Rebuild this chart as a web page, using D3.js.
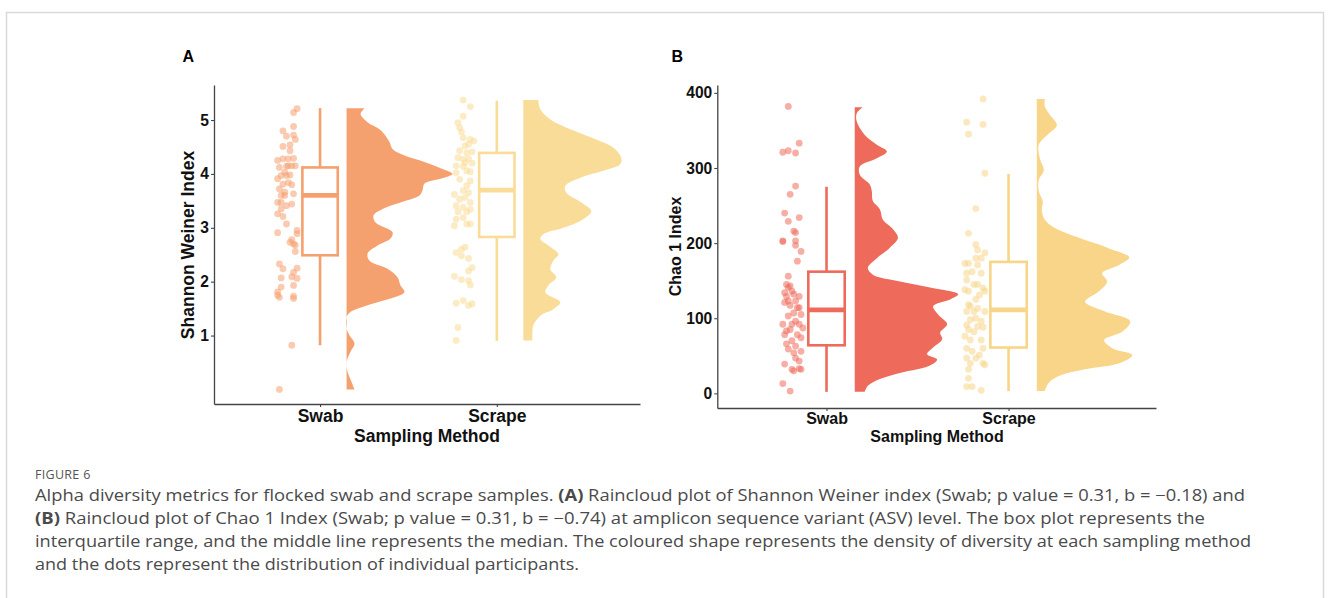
<!DOCTYPE html>
<html>
<head>
<meta charset="utf-8">
<script src="https://cdn.jsdelivr.net/npm/d3@7"></script>
<style>
  body { margin: 0; background: #fff; }
  svg { display: block; }
</style>
</head>
<body>
<svg id="fig" width="1330" height="598"></svg>
<script>
// categories and tick values
var categories = ["Swab", "Scrape"];
var shannonTicks = [1, 2, 3, 4, 5];
var chaoTicks = [0, 100, 200, 300, 400];

// box stats: [lower whisker, q1, median, q3, upper whisker]
var shannonSwabBox = [0.82, 2.49, 3.60, 4.12, 5.22];
var shannonScrapeBox = [0.90, 2.83, 3.70, 4.39, 5.36];
var chaoSwabBox = [2, 64, 111, 162, 275];
var chaoScrapeBox = [3, 61, 111, 175, 292];

// density outline: [value, density]
var shannonSwabDensity = [[5.22,0.18],[5.11,0.14],[4.96,0.21],[4.83,0.33],[4.71,0.39],[4.59,0.43],[4.46,0.46],[4.34,0.58],[4.22,0.78],[4.09,0.96],[4.00,1.06],[3.91,0.94],[3.82,0.78],[3.69,0.76],[3.60,0.73],[3.47,0.54],[3.35,0.36],[3.23,0.27],[3.10,0.29],[2.92,0.46],[2.80,0.44],[2.67,0.31],[2.52,0.21],[2.39,0.23],[2.24,0.41],[2.08,0.51],[1.93,0.54],[1.81,0.58],[1.71,0.48],[1.62,0.31],[1.53,0.16],[1.44,0.04],[1.34,0.00],[1.13,0.00],[1.00,0.03],[0.85,0.08],[0.70,0.04],[0.51,0.00],[0.33,0.01],[0.14,0.05],[0.00,0.08]];
var shannonScrapeDensity = [[5.37,0.15],[5.20,0.17],[5.01,0.27],[4.83,0.47],[4.64,0.73],[4.49,0.90],[4.30,0.98],[4.18,0.97],[4.06,0.80],[3.93,0.57],[3.78,0.42],[3.65,0.43],[3.47,0.58],[3.31,0.68],[3.16,0.60],[3.00,0.40],[2.88,0.20],[2.79,0.17],[2.67,0.25],[2.51,0.35],[2.39,0.30],[2.23,0.27],[2.08,0.33],[1.93,0.25],[1.80,0.22],[1.62,0.37],[1.49,0.30],[1.37,0.17],[1.19,0.10],[1.00,0.09],[0.91,0.09]];
var chaoSwabDensity = [[381,0.08],[373,0.02],[362,0.02],[344,0.10],[331,0.22],[322,0.32],[313,0.22],[302,0.05],[291,0.05],[278,0.15],[269,0.17],[256,0.18],[245,0.25],[231,0.28],[220,0.37],[207,0.43],[194,0.35],[180,0.22],[167,0.13],[158,0.18],[149,0.45],[141,0.75],[132,1.03],[125,0.95],[116,0.78],[105,0.83],[92,0.92],[81,0.85],[72,0.87],[61,0.78],[52,0.72],[45,0.82],[36,0.73],[28,0.48],[19,0.25],[10,0.13],[2,0.10]];
var chaoScrapeDensity = [[392,0.08],[382,0.08],[371,0.13],[357,0.20],[346,0.12],[331,0.02],[313,0.03],[297,0.07],[284,0.02],[269,0.02],[255,0.06],[244,0.05],[231,0.08],[220,0.18],[207,0.42],[193,0.72],[181,0.92],[171,0.82],[160,0.65],[149,0.70],[136,0.62],[122,0.48],[109,0.68],[96,0.93],[82,0.85],[71,0.67],[60,0.75],[51,0.95],[40,0.82],[32,0.48],[23,0.22],[14,0.12],[3,0.08]];

// individual participants: [jitter from category, value]
var shannonSwabPoints = [[-0.13,5.21],[-0.15,5.14],[-0.21,4.80],[-0.15,4.88],[-0.15,4.72],[-0.14,4.64],[-0.19,4.70],[-0.21,4.51],[-0.17,4.54],[-0.17,4.43],[-0.24,4.25],[-0.21,4.28],[-0.18,4.28],[-0.15,4.29],[-0.23,4.12],[-0.19,4.14],[-0.16,4.15],[-0.22,3.97],[-0.19,3.97],[-0.17,3.98],[-0.24,3.91],[-0.21,3.81],[-0.16,3.80],[-0.23,3.72],[-0.20,3.66],[-0.20,3.60],[-0.15,3.63],[-0.24,3.47],[-0.22,3.47],[-0.16,3.44],[-0.22,3.35],[-0.24,3.26],[-0.21,3.21],[-0.19,3.07],[-0.24,2.91],[-0.13,2.95],[-0.13,2.89],[-0.16,2.78],[-0.15,2.70],[-0.14,2.56],[-0.14,2.68],[-0.23,2.33],[-0.21,2.24],[-0.13,2.25],[-0.15,2.17],[-0.22,2.07],[-0.13,2.06],[-0.16,2.09],[-0.15,1.93],[-0.22,1.90],[-0.24,1.81],[-0.23,1.71],[-0.15,1.73],[-0.15,1.69],[-0.24,1.75],[-0.16,0.82],[-0.23,0.00],[-0.20,4.03],[-0.18,3.84],[-0.22,3.60],[-0.18,4.15],[-0.14,4.15],[-0.19,3.41],[-0.17,2.73]];
var shannonScrapePoints = [[-0.19,5.37],[-0.15,5.25],[-0.19,5.07],[-0.22,4.95],[-0.21,4.86],[-0.20,4.78],[-0.19,4.67],[-0.15,4.64],[-0.13,4.61],[-0.18,4.52],[-0.16,4.55],[-0.21,4.43],[-0.17,4.39],[-0.14,4.41],[-0.22,4.30],[-0.19,4.27],[-0.16,4.28],[-0.14,4.20],[-0.23,4.15],[-0.19,4.14],[-0.17,4.06],[-0.23,4.02],[-0.15,4.04],[-0.15,3.87],[-0.19,3.69],[-0.24,3.62],[-0.18,3.56],[-0.15,3.47],[-0.23,3.41],[-0.19,3.38],[-0.15,3.34],[-0.22,3.30],[-0.17,3.30],[-0.23,3.16],[-0.15,3.07],[-0.17,3.07],[-0.24,3.04],[-0.20,2.60],[-0.18,2.64],[-0.23,2.54],[-0.20,2.48],[-0.16,2.43],[-0.14,2.26],[-0.16,2.20],[-0.24,2.10],[-0.20,2.04],[-0.16,2.02],[-0.15,1.94],[-0.23,1.60],[-0.19,1.65],[-0.16,1.56],[-0.14,1.59],[-0.22,1.15],[-0.23,0.91],[-0.18,4.21],[-0.21,3.90],[-0.17,3.78],[-0.21,3.53],[-0.16,3.65],[-0.19,3.19]];
var chaoSwabPoints = [[-0.21,382],[-0.15,333],[-0.21,323],[-0.24,321],[-0.17,320],[-0.17,276],[-0.20,265],[-0.23,240],[-0.15,234],[-0.21,229],[-0.18,216],[-0.17,214],[-0.17,203],[-0.24,203],[-0.17,197],[-0.14,189],[-0.16,176],[-0.21,156],[-0.20,143],[-0.23,134],[-0.22,129],[-0.19,136],[-0.15,129],[-0.17,123],[-0.23,121],[-0.20,117],[-0.16,114],[-0.14,105],[-0.21,103],[-0.17,96],[-0.19,92],[-0.15,92],[-0.22,83],[-0.23,78],[-0.16,78],[-0.20,85],[-0.14,74],[-0.22,66],[-0.17,63],[-0.21,59],[-0.14,56],[-0.18,54],[-0.17,47],[-0.23,39],[-0.19,32],[-0.15,33],[-0.14,32],[-0.18,30],[-0.24,13],[-0.20,3],[-0.21,141],[-0.18,132],[-0.24,92],[-0.19,70],[-0.15,114],[-0.21,123],[-0.13,87],[-0.15,43],[-0.22,145],[-0.18,107],[-0.24,202]];
var chaoScrapePoints = [[-0.14,392],[-0.23,361],[-0.14,358],[-0.22,345],[-0.13,293],[-0.18,246],[-0.22,213],[-0.18,198],[-0.17,191],[-0.13,187],[-0.18,180],[-0.24,173],[-0.22,173],[-0.17,171],[-0.23,160],[-0.15,160],[-0.23,151],[-0.17,145],[-0.19,145],[-0.14,140],[-0.24,138],[-0.22,136],[-0.13,136],[-0.18,125],[-0.21,116],[-0.23,109],[-0.19,109],[-0.13,109],[-0.18,100],[-0.21,98],[-0.15,96],[-0.23,91],[-0.17,89],[-0.22,85],[-0.14,88],[-0.24,76],[-0.21,71],[-0.14,60],[-0.23,60],[-0.20,56],[-0.16,51],[-0.23,47],[-0.18,47],[-0.21,40],[-0.14,40],[-0.22,32],[-0.13,38],[-0.22,20],[-0.23,9],[-0.20,9],[-0.15,4],[-0.15,180],[-0.20,162],[-0.16,131],[-0.22,118],[-0.19,82],[-0.17,113],[-0.15,71]];

var svg = d3.select("#fig");

// outer frame of the figure
svg.append("rect")
    .attr("x", 6.5).attr("y", 12.5)
    .attr("width", 1317).attr("height", 620)
    .attr("fill", "none")
    .attr("stroke", "#d9d9d9")
    .attr("stroke-width", 1.5);

var font = "'Liberation Sans', Arial, sans-serif";

function drawPanel(p) {
    var x = d3.scaleLinear().domain([0.4, 2.81]).range([p.left, p.right]);
    var y = d3.scaleLinear().domain(p.yDomain).range([p.bottom, p.top]);
    var g = svg.append("g");

    var groups = [
        {cat: 1, box: p.boxes[0], dens: p.dens[0], pts: p.pts[0], color: p.colors[0]},
        {cat: 2, box: p.boxes[1], dens: p.dens[1], pts: p.pts[1], color: p.colors[1]}
    ];

    groups.forEach(function(d) {
        // half violin (the cloud)
        var area = d3.area()
            .y(function(e) { return y(e[0]); })
            .x0(x(d.cat + p.cloudGap))
            .x1(function(e) { return x(d.cat + p.cloudGap + e[1] * p.cloudWidth); })
            .curve(d3.curveCatmullRom.alpha(0.5));
        g.append("path")
            .datum(d.dens)
            .attr("fill", d.color)
            .attr("d", area);
    });

    groups.forEach(function(d) {
        // jittered points
        g.selectAll(null)
            .data(d.pts)
            .enter().append("circle")
            .attr("cx", function(e) { return x(d.cat + e[0]); })
            .attr("cy", function(e) { return y(e[1]); })
            .attr("r", 3.4)
            .attr("fill", d.color)
            .attr("fill-opacity", 0.55);
    });

    groups.forEach(function(d) {
        var b = d.box;
        // whiskers
        g.append("line")
            .attr("x1", x(d.cat)).attr("x2", x(d.cat))
            .attr("y1", y(b[3])).attr("y2", y(b[4]))
            .attr("stroke", d.color).attr("stroke-width", 2.6);
        g.append("line")
            .attr("x1", x(d.cat)).attr("x2", x(d.cat))
            .attr("y1", y(b[1])).attr("y2", y(b[0]))
            .attr("stroke", d.color).attr("stroke-width", 2.6);
        // box
        g.append("rect")
            .attr("x", x(d.cat - 0.1))
            .attr("y", y(b[3]))
            .attr("width", x(d.cat + 0.1) - x(d.cat - 0.1))
            .attr("height", y(b[1]) - y(b[3]))
            .attr("fill", "#fff")
            .attr("stroke", d.color).attr("stroke-width", 2.6);
        // median
        g.append("line")
            .attr("x1", x(d.cat - 0.1)).attr("x2", x(d.cat + 0.1))
            .attr("y1", y(b[2])).attr("y2", y(b[2]))
            .attr("stroke", d.color).attr("stroke-width", 4.8);
    });

    // y axis
    var yAxis = g.append("g")
        .attr("transform", "translate(" + p.left + ",0)")
        .call(d3.axisLeft(y).tickValues(p.ticks).tickSize(3).tickSizeOuter(0).tickPadding(2)
            .tickFormat(d3.format("d")));
    // x axis
    var xAxis = g.append("g")
        .attr("transform", "translate(0," + p.bottom + ")")
        .call(d3.axisBottom(x).tickValues([1, 2]).tickSize(3).tickSizeOuter(0)
            .tickPadding(p.xPad)
            .tickFormat(function(i) { return categories[i - 1]; }));

    [yAxis, xAxis].forEach(function(a) {
        a.select(".domain").attr("stroke", "#444").attr("stroke-width", 1.3);
        a.selectAll(".tick line").attr("stroke", "#444").attr("stroke-width", 1.1);
        a.selectAll("text")
            .attr("fill", "#111")
            .style("font-family", font)
            .style("font-weight", "bold");
    });
    yAxis.selectAll("text").style("font-size", "15.6px");
    xAxis.selectAll("text").style("font-size", p.titleSize + "px");

    // axis titles
    g.append("text")
        .attr("x", p.xTitle[0]).attr("y", p.xTitle[1])
        .attr("text-anchor", "middle")
        .style("font-family", font).style("font-weight", "bold")
        .style("font-size", p.titleSize + "px")
        .attr("fill", "#111")
        .text("Sampling Method");
    g.append("text")
        .attr("transform", "translate(" + p.yTitle[0] + "," + p.yTitle[1] + ") rotate(-90)")
        .attr("text-anchor", "middle")
        .style("font-family", font).style("font-weight", "bold")
        .style("font-size", p.titleSize + "px")
        .attr("fill", "#111")
        .text(p.yLabel);

    // panel letter
    g.append("text")
        .attr("x", p.letter[0]).attr("y", p.letter[1])
        .style("font-family", font).style("font-weight", "bold")
        .style("font-size", "16px")
        .attr("fill", "#000")
        .text(p.letterText);
}

drawPanel({
    left: 214, right: 640, top: 85, bottom: 404,
    yDomain: [-0.27, 5.65], ticks: shannonTicks,
    boxes: [shannonSwabBox, shannonScrapeBox],
    dens: [shannonSwabDensity, shannonScrapeDensity],
    pts: [shannonSwabPoints, shannonScrapePoints],
    colors: ["#F5A16F", "#F9DC98"],
    cloudGap: 0.15, cloudWidth: 0.565,
    titleSize: 17.5, xPad: 2.6,
    xTitle: [427, 441.5], yTitle: [193.5, 245],
    yLabel: "Shannon Weiner Index",
    letter: [182.5, 62], letterText: "A"
});

drawPanel({
    left: 717.3, right: 1156, top: 85, bottom: 408,
    yDomain: [-19.5, 410.5], ticks: chaoTicks,
    boxes: [chaoSwabBox, chaoScrapeBox],
    dens: [chaoSwabDensity, chaoScrapeDensity],
    pts: [chaoSwabPoints, chaoScrapePoints],
    colors: ["#EE6B5B", "#F8D588"],
    cloudGap: 0.155, cloudWidth: 0.552,
    titleSize: 16, xPad: 1.6,
    xTitle: [937, 441.5], yTitle: [681, 246.5],
    yLabel: "Chao 1 Index",
    letter: [671.5, 62], letterText: "B"
});

// caption
var capFont = "'Open Sans', 'Noto Sans', sans-serif";
svg.append("text")
    .attr("x", 35).attr("y", 479)
    .style("font-family", capFont).style("font-size", "12.5px")
    .style("letter-spacing", "0.3px")
    .attr("fill", "#555")
    .text("FIGURE 6");

var captionLines = [
    {w: 1210, parts: [["", "Alpha diversity metrics for flocked swab and scrape samples. "], ["b", "(A)"], ["", " Raincloud plot of Shannon Weiner index (Swab; p value = 0.31, b = \u22120.18) and"]]},
    {w: 1170, parts: [["b", "(B)"], ["", " Raincloud plot of Chao 1 Index (Swab; p value = 0.31, b = \u22120.74) at amplicon sequence variant (ASV) level. The box plot represents the"]]},
    {w: 1216, parts: [["", "interquartile range, and the middle line represents the median. The coloured shape represents the density of diversity at each sampling method"]]},
    {w: 544, parts: [["", "and the dots represent the distribution of individual participants."]]}
];

captionLines.forEach(function(line, i) {
    var t = svg.append("text")
        .attr("x", 35).attr("y", 501 + i * 23)
        .attr("textLength", line.w)
        .attr("lengthAdjust", "spacingAndGlyphs")
        .style("font-family", capFont).style("font-size", "15.5px")
        .attr("fill", "#4a4a4a");
    line.parts.forEach(function(s) {
        t.append("tspan")
            .style("font-weight", s[0] === "b" ? "bold" : "normal")
            .text(s[1]);
    });
});
</script>
</body>
</html>
